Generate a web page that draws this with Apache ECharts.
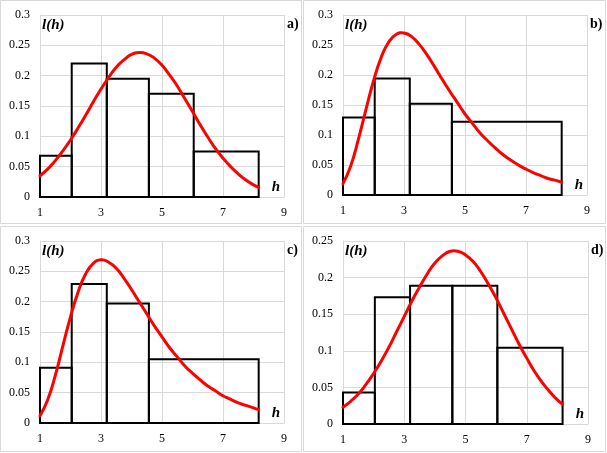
<!DOCTYPE html>
<html>
<head>
<meta charset="utf-8">
<script src="https://cdn.jsdelivr.net/npm/echarts@6/dist/echarts.min.js"></script>
<style>
html,body{margin:0;padding:0;background:#fff;}
#chart{width:607px;height:453px;}
</style>
</head>
<body>
<div id="chart"></div>
<script>
// ---- data ----
const xTicks = [1, 3, 5, 7, 9];
const edgesFive = [1, 2.04, 3.19, 4.57, 6.04, 8.17];
const edgesFour = [1, 2.04, 3.19, 4.57, 8.17];

const barsA = [0.068, 0.220, 0.195, 0.170, 0.075];
const barsB = [0.129, 0.194, 0.152, 0.122];
const barsC = [0.091, 0.229, 0.197, 0.105];
const barsD = [0.043, 0.173, 0.189, 0.189, 0.104];

const curveX = [1, 1.25, 1.5, 1.75, 2, 2.25, 2.5, 2.75, 3, 3.25, 3.5, 3.75, 4, 4.25, 4.5, 4.75, 5, 5.25, 5.5, 5.75, 6, 6.25, 6.5, 6.75, 7, 7.25, 7.5, 7.75, 8, 8.17];
const curveA = [0.035, 0.046, 0.060, 0.076, 0.094, 0.114, 0.135, 0.157, 0.178, 0.197, 0.214, 0.226, 0.235, 0.238, 0.236, 0.229, 0.217, 0.201, 0.183, 0.162, 0.141, 0.119, 0.099, 0.080, 0.064, 0.050, 0.038, 0.028, 0.020, 0.016];
const curveB = [0.019, 0.048, 0.092, 0.142, 0.190, 0.229, 0.255, 0.268, 0.270, 0.264, 0.251, 0.234, 0.214, 0.193, 0.173, 0.154, 0.135, 0.119, 0.103, 0.090, 0.078, 0.067, 0.058, 0.050, 0.043, 0.037, 0.032, 0.027, 0.024, 0.021];
const curveC = [0.012, 0.038, 0.078, 0.127, 0.175, 0.216, 0.246, 0.263, 0.269, 0.265, 0.255, 0.239, 0.220, 0.200, 0.180, 0.160, 0.142, 0.124, 0.109, 0.094, 0.082, 0.071, 0.061, 0.053, 0.045, 0.039, 0.033, 0.029, 0.025, 0.022];
const curveD = [0.023, 0.031, 0.041, 0.054, 0.069, 0.086, 0.105, 0.126, 0.147, 0.168, 0.187, 0.205, 0.220, 0.230, 0.236, 0.236, 0.231, 0.222, 0.208, 0.191, 0.172, 0.151, 0.130, 0.109, 0.090, 0.072, 0.057, 0.044, 0.033, 0.027];

const yMaxes = [0.3, 0.3, 0.3, 0.25];
const panelLabels = ['a)', 'b)', 'c)', 'd)'];
const yName = 'l(h)';
const xName = 'h';

// ---- build ----
const FONT = "'Liberation Serif', 'Times New Roman', serif";
const GRIDC = '#d9d9d9';

function binData(edges, vals) {
  return vals.map((v, i) => [edges[i], edges[i + 1], v]);
}
function lineData(xs, ys) { return xs.map((x, i) => [x, ys[i]]); }

const panels = [
  {bars: binData(edgesFive, barsA), curve: lineData(curveX, curveA)},
  {bars: binData(edgesFour, barsB), curve: lineData(curveX, curveB)},
  {bars: binData(edgesFour, barsC), curve: lineData(curveX, curveC)},
  {bars: binData(edgesFive, barsD), curve: lineData(curveX, curveD)}
];

const grids = [
  {left: 40, top: 15, width: 244, height: 182},
  {left: 343, top: 15, width: 244, height: 180},
  {left: 40, top: 241, width: 244, height: 182},
  {left: 343, top: 241, width: 245, height: 183}
];

const xAxes = [], yAxes = [], series = [], titles = [];
grids.forEach((g, i) => {
  xAxes.push({
    type: 'value', gridIndex: i, min: xTicks[0], max: xTicks[xTicks.length - 1], interval: 2,
    axisLine: {show: true, lineStyle: {color: GRIDC, width: 1}},
    axisTick: {show: false},
    axisLabel: {color: '#000', fontFamily: FONT, fontSize: 12, margin: 10},
    splitLine: {show: true, lineStyle: {color: GRIDC, width: 1}},
    name: xName, nameLocation: 'end', nameGap: -4,
    nameTextStyle: {fontFamily: FONT, fontSize: 15, fontWeight: 'bold', fontStyle: 'italic', color: '#000',
      align: 'right', verticalAlign: 'bottom', padding: [0, 0, 2, 0]}
  });
  yAxes.push({
    type: 'value', gridIndex: i, min: 0, max: yMaxes[i], interval: 0.05,
    axisLine: {show: true, lineStyle: {color: GRIDC, width: 1}},
    axisTick: {show: false},
    axisLabel: {color: '#000', fontFamily: FONT, fontSize: 12, margin: 10},
    splitLine: {show: true, lineStyle: {color: GRIDC, width: 1}},
    name: yName, nameLocation: 'end', nameGap: -10,
    nameTextStyle: {fontFamily: FONT, fontSize: 15, fontWeight: 'bold', fontStyle: 'italic', color: '#000',
      align: 'left', verticalAlign: 'middle', padding: [0, 0, 0, 2]}
  });
  titles.push({
    text: panelLabels[i], left: g.left + g.width + 3, top: g.top + 2,
    textStyle: {fontFamily: FONT, fontSize: 14, fontWeight: 'bold', color: '#000'}, padding: 0
  });
  series.push({
    type: 'custom', xAxisIndex: i, yAxisIndex: i,
    data: panels[i].bars,
    encode: {x: [0, 1], y: 2},
    renderItem: function (params, api) {
      const p0 = api.coord([api.value(0), api.value(2)]);
      const p1 = api.coord([api.value(1), 0]);
      return {
        type: 'rect',
        shape: {x: p0[0], y: p0[1], width: p1[0] - p0[0], height: p1[1] - p0[1]},
        style: {fill: 'none', stroke: '#000', lineWidth: 2}
      };
    },
    z: 2, silent: true
  });
  const curve = panels[i].curve;
  series.push({
    type: 'custom', xAxisIndex: i, yAxisIndex: i,
    data: curve,
    encode: {x: 0, y: 1},
    renderItem: function (params, api) {
      if (params.dataIndex !== 0) return null;
      const pts = curve.map(p => api.coord(p));
      return {
        type: 'polyline',
        shape: {points: pts, smooth: 0.5},
        style: {fill: null, stroke: '#ff0000', lineWidth: 3, lineJoin: 'round', lineCap: 'round'}
      };
    },
    z: 3, silent: true
  });
});

const chart = echarts.init(document.getElementById('chart'), null, {renderer: 'canvas'});
chart.setOption({
  backgroundColor: '#fff',
  animation: false,
  title: titles,
  grid: grids,
  xAxis: xAxes,
  yAxis: yAxes,
  series: series,
  graphic: [
    {type: 'rect', shape: {x: 0.5, y: 0.5, width: 301, height: 223}, style: {fill: null, stroke: GRIDC, lineWidth: 1}, silent: true},
    {type: 'rect', shape: {x: 303.5, y: 0.5, width: 302, height: 223}, style: {fill: null, stroke: GRIDC, lineWidth: 1}, silent: true},
    {type: 'rect', shape: {x: 0.5, y: 226.5, width: 301, height: 225}, style: {fill: null, stroke: GRIDC, lineWidth: 1}, silent: true},
    {type: 'rect', shape: {x: 303.5, y: 226.5, width: 302, height: 225}, style: {fill: null, stroke: GRIDC, lineWidth: 1}, silent: true}
  ]
});
</script>
</body>
</html>
